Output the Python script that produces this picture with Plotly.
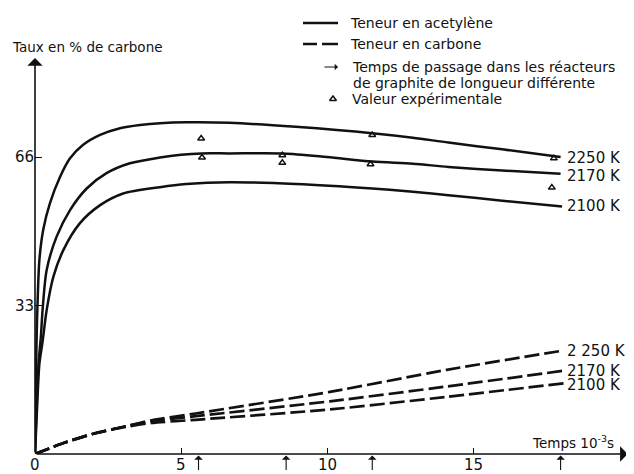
import plotly.graph_objects as go

# ---------------- data ----------------
# Teneur en acetylène (solid curves)
ac2250_x = [0, 0.02, 0.04, 0.06, 0.08, 0.15, 0.28, 0.51, 0.86, 1.2, 1.65, 2.23, 2.91, 3.6, 4.28, 5.18, 6.66, 8.93, 11.55, 12.94, 14.16, 16.0, 18.0]
ac2250_y = [0, 10, 20, 27, 32, 43.1, 49.8, 55.7, 61.6, 65.7, 68.7, 70.9, 72.4, 73.1, 73.5, 73.7, 73.6, 72.7, 71.3, 70.3, 69.2, 67.7, 66.0]
ac2170_x = [0, 0.05, 0.12, 0.2, 0.26, 0.4, 0.74, 1.2, 1.77, 2.45, 3.25, 4.28, 5.0, 5.7, 6.66, 8.5, 10.0, 11.55, 12.94, 14.16, 16.0, 18.0]
ac2170_y = [0, 10, 20, 26, 32, 40.9, 48.3, 54.2, 59.0, 62.4, 64.6, 65.9, 66.5, 66.8, 66.8, 66.8, 66.0, 65.0, 64.5, 63.8, 63.0, 62.3]
ac2100_x = [0, 0.07, 0.15, 0.26, 0.4, 0.63, 0.97, 1.54, 2.23, 3.02, 4.28, 5.18, 6.66, 8.93, 11.55, 12.94, 14.16, 16.0, 18.05]
ac2100_y = [0, 10, 20, 25, 32, 39.4, 45.3, 51.3, 55.3, 57.9, 59.3, 60.0, 60.4, 60.0, 59.0, 58.3, 57.5, 56.3, 55.0]

# Teneur en carbone (dashed curves)
c2250_x = [0, 1, 2, 3, 4, 5.5, 10.1, 14.1, 18.1]
c2250_y = [0, 2.5, 4.5, 6.0, 7.5, 9.0, 13.8, 18.7, 23.0]
c2170_x = [0, 1, 2, 3, 4, 5.5, 10.1, 14.1, 18.1]
c2170_y = [0, 2.5, 4.5, 6.0, 7.3, 8.4, 11.7, 15.0, 18.5]
c2100_x = [0, 1, 2, 3, 4, 5.5, 10.1, 14.1, 18.1]
c2100_y = [0, 2.5, 4.5, 5.9, 6.9, 7.6, 9.9, 12.7, 15.7]

# Valeur expérimentale
exp_x = [5.69, 5.72, 8.47, 8.47, 11.55, 11.49, 17.77, 17.7]
exp_y = [70.1, 65.9, 66.4, 64.7, 70.9, 64.4, 65.7, 59.2]

# Temps de passage (arrows under the time axis)
arrow_times = [5.6, 8.6, 11.55, 18.0]

# curve-end labels
solid_labels = ["2250 K", "2170 K", "2100 K"]
solid_label_y = [65.8, 61.8, 55.1]
dash_labels = ["2 250 K", "2170 K", "2100 K"]
dash_label_y = [22.8, 18.5, 15.3]
label_x = 18.15

x_tickvals = [0, 5, 10, 15]
x_ticktext = ["0", "5", "10", "15"]
y_tickvals = [33, 66]
y_ticktext = ["33", "66"]

# ---------------- figure ----------------
OFF = 8                      # page body margin of the browser
W, H = 634 - OFF, 474 - OFF
ML, MR, MT, MB = 35 - OFF, 0, 58 - OFF, 20
PW = W - ML - MR
PH = H - MT - MB
XSCALE = 29.2   # px per unit
YSCALE = 4.5
XMAX = PW / XSCALE
YMAX = PH / YSCALE

# helpers: window-pixel -> paper / data coordinates
def px(p):
    return (p - OFF - ML) / PW

def py(p):
    return (H - MB - (p - OFF)) / PH

def dx(p):
    return (p - OFF - ML) / XSCALE

def dy(p):
    return (H - MB - (p - OFF)) / YSCALE

FONT = "DejaVu Sans"
BLACK = "#111111"

fig = go.Figure()

for xs, ys in [(ac2250_x, ac2250_y), (ac2170_x, ac2170_y), (ac2100_x, ac2100_y)]:
    fig.add_trace(go.Scatter(x=xs, y=ys, mode="lines",
                             line=dict(color=BLACK, width=2.5, shape="spline", smoothing=0.8),
                             showlegend=False, hoverinfo="skip"))

for xs, ys in [(c2250_x, c2250_y), (c2170_x, c2170_y), (c2100_x, c2100_y)]:
    fig.add_trace(go.Scatter(x=xs, y=ys, mode="lines",
                             line=dict(color=BLACK, width=2.7, dash="15px,5px", shape="spline", smoothing=0.6),
                             showlegend=False, hoverinfo="skip"))

tri = dict(symbol="triangle-up-open", size=6, color=BLACK, line=dict(width=1.5, color=BLACK))
fig.add_trace(go.Scatter(x=exp_x, y=exp_y, mode="markers", marker=tri,
                         showlegend=False, hoverinfo="skip"))
# legend sample marker
fig.add_trace(go.Scatter(x=[dx(333)], y=[dy(99)], mode="markers", marker=tri,
                         showlegend=False, hoverinfo="skip", cliponaxis=False))

ann = []
# axes with arrow heads
ann.append(dict(x=20.3, y=0, ax=0, ay=0, xref="x", yref="y", axref="x", ayref="y",
                text="", showarrow=True, arrowhead=1, arrowsize=1.6, arrowwidth=1.6, arrowcolor=BLACK, standoff=0))
ann.append(dict(x=0, y=YMAX, ax=0, ay=0, xref="x", yref="y", axref="x", ayref="y",
                text="", showarrow=True, arrowhead=1, arrowsize=1.6, arrowwidth=1.6, arrowcolor=BLACK, standoff=0))
# passage-time arrows
for t in arrow_times:
    ann.append(dict(x=t, y=-0.004, xref="x", yref="paper", ax=0, ay=16,
                    text="", showarrow=True, arrowhead=1, arrowsize=1.3, arrowwidth=1.1, arrowcolor=BLACK, standoff=0))

# x tick labels
for v, t in zip(x_tickvals, x_ticktext):
    ann.append(dict(x=v, y=py(465), xref="x", yref="paper", text=t, showarrow=False,
                    xanchor="center", yanchor="middle", font=dict(family=FONT, size=15, color=BLACK)))

# curve labels
for txt, yy in zip(solid_labels, solid_label_y):
    ann.append(dict(x=label_x, y=yy, xref="x", yref="y", text=txt, showarrow=False,
                    xanchor="left", yanchor="middle", font=dict(family=FONT, size=15, color=BLACK)))
for txt, yy in zip(dash_labels, dash_label_y):
    ann.append(dict(x=label_x, y=yy, xref="x", yref="y", text=txt, showarrow=False,
                    xanchor="left", yanchor="middle", font=dict(family=FONT, size=15, color=BLACK)))

# axis titles
ann.append(dict(x=px(10), y=py(47), xref="paper", yref="paper", text="Taux en % de carbone",
                showarrow=False, xanchor="left", yanchor="middle", font=dict(family=FONT, size=13.5, color=BLACK)))
ann.append(dict(x=px(530), y=py(442), xref="paper", yref="paper", text="Temps 10<sup>-3</sup>s",
                showarrow=False, xanchor="left", yanchor="middle", font=dict(family=FONT, size=13.5, color=BLACK)))

# legend
leg_font = dict(family=FONT, size=14, color=BLACK)
ann.append(dict(x=px(348), y=py(23), xref="paper", yref="paper", text="Teneur en acetylène",
                showarrow=False, xanchor="left", yanchor="middle", font=leg_font))
ann.append(dict(x=px(348), y=py(44), xref="paper", yref="paper", text="Teneur en carbone",
                showarrow=False, xanchor="left", yanchor="middle", font=leg_font))
ann.append(dict(x=px(350), y=py(67), xref="paper", yref="paper", text="Temps de passage dans les réacteurs",
                showarrow=False, xanchor="left", yanchor="middle", font=leg_font))
ann.append(dict(x=px(351), y=py(83), xref="paper", yref="paper", text="de graphite de longueur différente",
                showarrow=False, xanchor="left", yanchor="middle", font=leg_font))
ann.append(dict(x=px(350), y=py(99), xref="paper", yref="paper", text="Valeur expérimentale",
                showarrow=False, xanchor="left", yanchor="middle", font=leg_font))
ann.append(dict(x=px(338), y=py(67), xref="paper", yref="paper", ax=-15, ay=0,
                text="", showarrow=True, arrowhead=1, arrowsize=1.0, arrowwidth=1.1, arrowcolor=BLACK, standoff=0))

shapes = [
    dict(type="line", xref="paper", yref="paper", x0=px(303), x1=px(338), y0=py(23), y1=py(23),
         line=dict(color=BLACK, width=2.5)),
    dict(type="line", xref="paper", yref="paper", x0=px(303), x1=px(317), y0=py(44), y1=py(44),
         line=dict(color=BLACK, width=2.5)),
    dict(type="line", xref="paper", yref="paper", x0=px(322), x1=px(338), y0=py(44), y1=py(44),
         line=dict(color=BLACK, width=2.5)),
]

fig.update_layout(
    width=W, height=H,
    margin=dict(l=ML, r=MR, t=MT, b=MB, autoexpand=False),
    paper_bgcolor="white", plot_bgcolor="white",
    showlegend=False,
    annotations=ann, shapes=shapes,
    xaxis=dict(range=[0, XMAX], showgrid=False, zeroline=False, showline=False, automargin=False,
               tickmode="array", tickvals=x_tickvals, ticktext=x_ticktext, showticklabels=False,
               ticks="inside", ticklen=6, tickwidth=1, tickcolor=BLACK),
    yaxis=dict(range=[0, YMAX], showgrid=False, zeroline=False, showline=False, automargin=False,
               tickmode="array", tickvals=y_tickvals, ticktext=y_ticktext,
               ticks="inside", ticklen=7, tickwidth=1, tickcolor=BLACK,
               tickfont=dict(family=FONT, size=15, color=BLACK)),
)

fig.write_html("out.html")
